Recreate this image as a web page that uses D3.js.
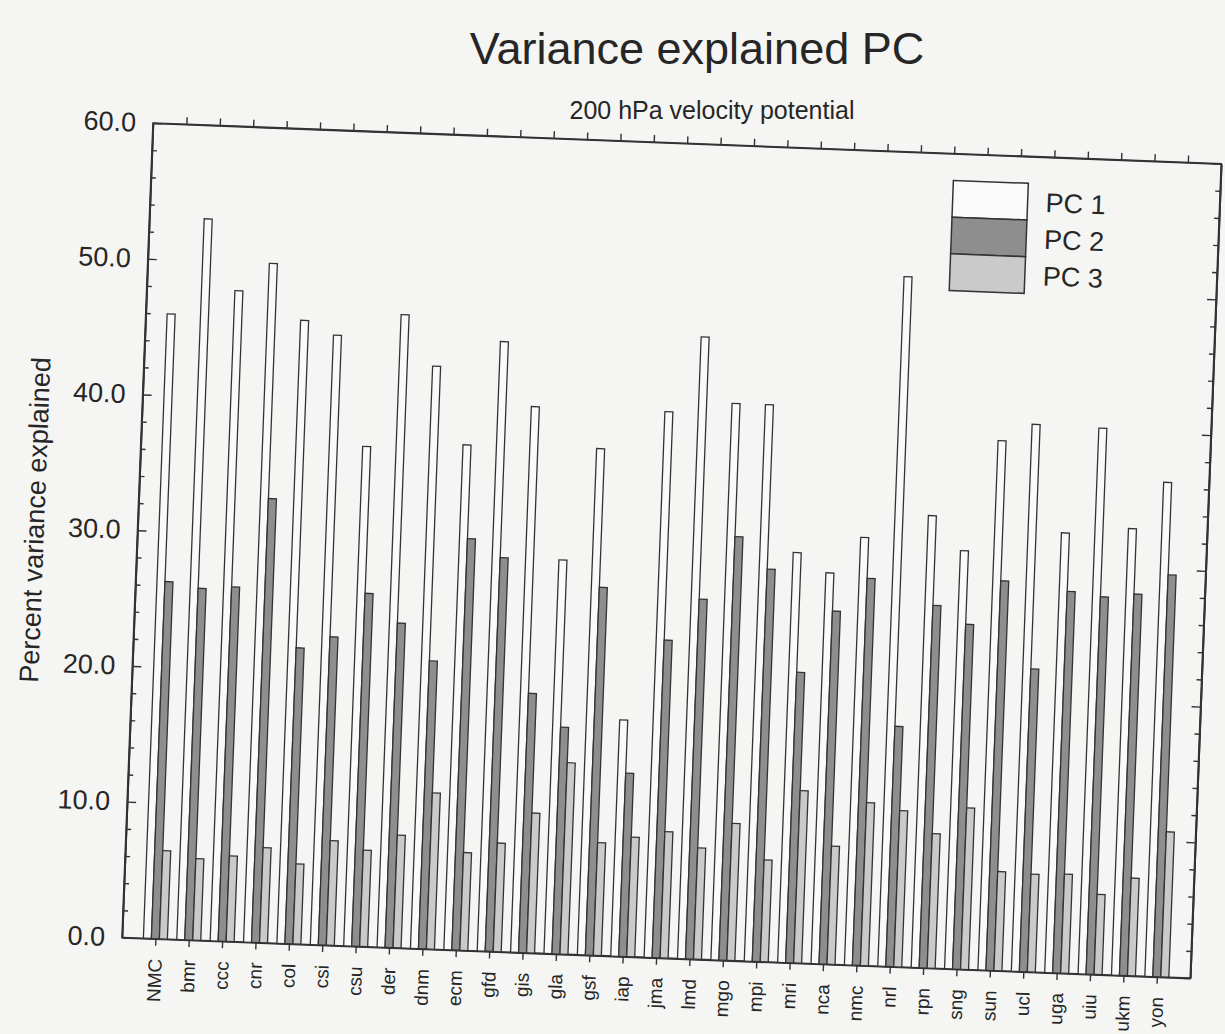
<html>

<head>
    <style>
        body {
            margin: 0;
            background: #f5f5f4;
        }

        text {
            font-family: "Liberation Sans", Arial, Helvetica, sans-serif;
            fill: #262626;
        }
    </style>
</head>

<body>
    <svg id="chart">
        <g id="titles"></g>
        <g id="plot"></g>
    </svg>
</body>
<script src="https://cdn.jsdelivr.net/npm/d3@7"></script>
<script>
    // Data
    let models = ["NMC", "bmr", "ccc", "cnr", "col", "csi", "csu", "der", "dnm", "ecm", "gfd",
        "gis", "gla", "gsf", "iap", "jma", "lmd", "mgo", "mpi", "mri", "nca", "nmc",
        "nrl", "rpn", "sng", "sun", "ucl", "uga", "uiu", "ukm", "yon"]

    let pc1 = [46.0, 53.1, 47.9, 50.0, 45.9, 44.9, 36.8, 46.6, 42.9, 37.2, 44.9,
        40.2, 29.0, 37.3, 17.4, 40.2, 45.8, 41.0, 41.0, 30.2, 28.8, 31.5,
        50.8, 33.3, 30.8, 39.0, 40.3, 32.4, 40.2, 32.9, 36.4]

    let pc2 = [26.3, 25.9, 26.1, 32.7, 21.8, 22.7, 26.0, 23.9, 21.2, 30.3, 29.0,
        19.1, 16.7, 27.1, 13.5, 23.4, 26.5, 31.2, 28.9, 21.4, 26.0, 28.5,
        17.7, 26.7, 25.4, 28.7, 22.3, 28.1, 27.8, 28.1, 29.6]

    let pc3 = [6.5, 6.0, 6.3, 7.0, 5.9, 7.7, 7.1, 8.3, 11.5, 7.2, 8.0,
        10.3, 14.1, 8.3, 8.8, 9.3, 8.2, 10.1, 7.5, 12.7, 8.7, 12.0,
        11.5, 9.9, 11.9, 7.3, 7.2, 7.3, 5.9, 7.2, 10.7]

    let seriesNames = ["PC 1", "PC 2", "PC 3"]
    let yTicks = [0, 10, 20, 30, 40, 50, 60]

    //Setup
    let width = 1225,
        height = 1034,
        origin = { x: 153, y: 123 },
        tilt = 2.18, // the scanned page sits slightly rotated
        plotWidth = 1069,
        plotHeight = 815

    let fills = ["#fafafa", "#8e8e8e", "#cacaca"]

    function init() {
        d3.select("#chart")
            .attr("width", width)
            .attr("height", height)
            .style("background", "#f5f5f4")

        d3.select("#plot")
            .attr("transform", `translate(${origin.x},${origin.y}) rotate(${tilt})`)

        drawTitles()
        drawAxes()
        drawBars()
        drawLegend()
    }

    function drawTitles() {
        let t = d3.select("#titles")
        t.append("text")
            .attr("x", 697)
            .attr("y", 64)
            .attr("text-anchor", "middle")
            .attr("font-size", 45)
            .text("Variance explained PC")

        t.append("text")
            .attr("x", 712)
            .attr("y", 119)
            .attr("text-anchor", "middle")
            .attr("font-size", 25)
            .text("200 hPa velocity potential")
    }

    let x = d3.scaleLinear().domain([0, models.length + 1]).range([0, plotWidth])
    let y = d3.scaleLinear().domain([0, 60]).range([plotHeight, 0])

    function drawAxes() {
        let plot = d3.select("#plot")
        let minor = d3.range(0, 61, 2).filter(d => d % 10 != 0)
        let groupTicks = d3.range(1, models.length + 1)

        // left axis, labelled
        plot.append("g")
            .call(d3.axisLeft(y).tickValues(yTicks).tickSize(-9).tickSizeOuter(0)
                .tickPadding(17).tickFormat(d3.format(".1f")))
            .call(g => g.selectAll("text").attr("font-size", 27).style("fill", "#262626"))
        plot.append("g")
            .call(d3.axisLeft(y).tickValues(minor).tickSize(-5).tickSizeOuter(0).tickFormat(""))

        // right axis, ticks only
        plot.append("g")
            .attr("transform", `translate(${plotWidth},0)`)
            .call(d3.axisRight(y).tickValues(yTicks).tickSize(-9).tickSizeOuter(0).tickFormat(""))
        plot.append("g")
            .attr("transform", `translate(${plotWidth},0)`)
            .call(d3.axisRight(y).tickValues(minor).tickSize(-5).tickSizeOuter(0).tickFormat(""))

        // top axis, ticks only
        plot.append("g")
            .call(d3.axisTop(x).tickValues(groupTicks).tickSize(7).tickSizeOuter(0).tickFormat(""))

        // bottom axis with model names
        plot.append("g")
            .attr("transform", `translate(0,${plotHeight})`)
            .call(d3.axisBottom(x).tickValues(groupTicks).tickSize(7).tickSizeOuter(0)
                .tickFormat(d => models[d - 1]))
            .call(g => g.selectAll("text")
                .attr("font-size", 19)
                .style("fill", "#262626")
                .attr("transform", "rotate(-90)")
                .attr("text-anchor", "end")
                .attr("x", -20)
                .attr("y", 0)
                .attr("dy", "0.35em"))

        plot.selectAll(".domain").attr("stroke", "#333").attr("stroke-width", 1.6)
        plot.selectAll(".tick line").attr("stroke", "#333").attr("stroke-width", 1.4)

        // frame
        plot.append("rect")
            .attr("width", plotWidth)
            .attr("height", plotHeight)
            .attr("fill", "none")
            .attr("stroke", "#333")
            .attr("stroke-width", 1.6)

        // y axis title
        plot.append("text")
            .attr("transform", `translate(-103,401) rotate(-90)`)
            .attr("text-anchor", "middle")
            .attr("dy", "0.35em")
            .attr("font-size", 27)
            .text("Percent variance explained")
    }

    function drawBars() {
        let barW = 8,
            offsets = [-8, 0, 8]
        let series = [pc1, pc2, pc3]

        let groups = d3.select("#plot").append("g").selectAll("g")
            .data(models)
            .enter().append("g")
            .attr("transform", (d, i) => `translate(${x(i + 1)},0)`)

        series.forEach((values, s) => {
            groups.append("rect")
                .attr("x", offsets[s] - barW / 2)
                .attr("width", barW)
                .attr("y", (d, i) => y(values[i]))
                .attr("height", (d, i) => plotHeight - y(values[i]))
                .attr("fill", fills[s])
                .attr("stroke", "#333")
                .attr("stroke-width", 1.3)
        })
    }

    function drawLegend() {
        let boxW = 75,
            boxH = 36.7
        let legend = d3.select("#plot").append("g")
            .attr("transform", "translate(802,27)")

        let items = legend.selectAll("g")
            .data(seriesNames)
            .enter().append("g")
            .attr("transform", (d, i) => `translate(0,${i * boxH})`)

        items.append("rect")
            .attr("width", boxW)
            .attr("height", boxH)
            .attr("fill", (d, i) => fills[i])
            .attr("stroke", "#333")
            .attr("stroke-width", 1.5)

        items.append("text")
            .attr("x", boxW + 18)
            .attr("y", boxH / 2)
            .attr("dy", "0.36em")
            .attr("font-size", 27)
            .text(d => d)
    }

    init()
</script>

</html>
